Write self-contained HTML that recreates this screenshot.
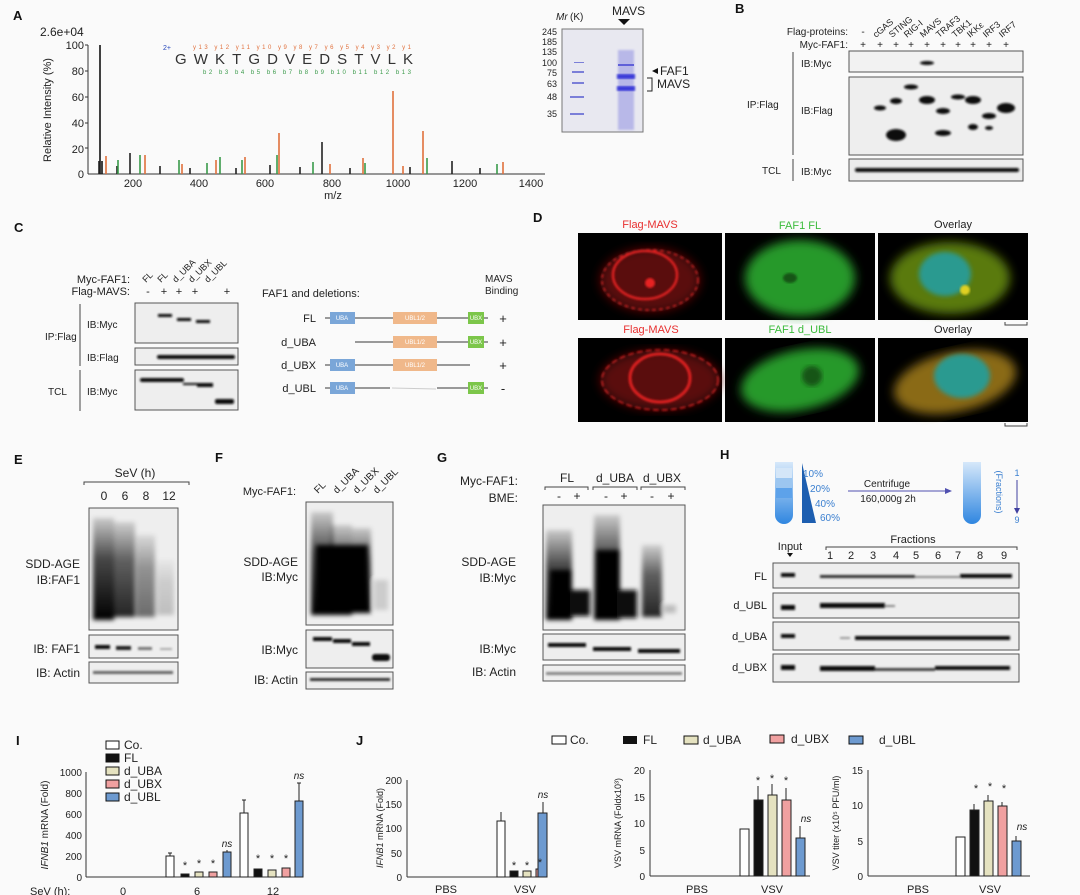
<!DOCTYPE html>
<html><head><meta charset="utf-8"><style>
html,body{margin:0;padding:0;background:#fafafa}
svg{display:block;font-family:"Liberation Sans",sans-serif}
</style></head><body>
<svg width="1080" height="895" viewBox="0 0 1080 895" xmlns="http://www.w3.org/2000/svg">
<defs>
<filter id="b1"><feGaussianBlur stdDeviation="1"/></filter>
<filter id="b2"><feGaussianBlur stdDeviation="2.5"/></filter>
<filter id="b4"><feGaussianBlur stdDeviation="5"/></filter>
<linearGradient id="smear" x1="0" y1="0" x2="0" y2="1"><stop offset="0" stop-color="#000" stop-opacity="0.15"/><stop offset="0.4" stop-color="#000" stop-opacity="0.7"/><stop offset="1" stop-color="#000" stop-opacity="1"/></linearGradient>
<linearGradient id="tube" x1="0" y1="0" x2="0" y2="1"><stop offset="0" stop-color="#d6e8fa"/><stop offset="1" stop-color="#2f86e0"/></linearGradient>
</defs>
<rect width="1080" height="895" fill="#fafafa"/>
<g font-weight="bold" font-size="13" fill="#111">
<text x="13" y="20">A</text><text x="735" y="13">B</text><text x="14" y="232">C</text><text x="533" y="222">D</text>
<text x="14" y="464">E</text><text x="215" y="462">F</text><text x="437" y="462">G</text><text x="720" y="459">H</text>
<text x="16" y="745">I</text><text x="356" y="745">J</text></g>

<!-- Panel A spectrum -->
<g font-size="11" fill="#222">
<text x="40" y="36" font-size="12">2.6e+04</text>
<line x1="88" y1="45" x2="88" y2="174" stroke="#333"/>
<line x1="88" y1="174" x2="545" y2="174" stroke="#333"/>
<g text-anchor="end"><text x="84" y="49">100</text><text x="84" y="75">80</text><text x="84" y="101">60</text><text x="84" y="127">40</text><text x="84" y="153">20</text><text x="84" y="178">0</text></g>
<g stroke="#333"><line x1="85" y1="45" x2="88" y2="45"/><line x1="85" y1="71" x2="88" y2="71"/><line x1="85" y1="97" x2="88" y2="97"/><line x1="85" y1="123" x2="88" y2="123"/><line x1="85" y1="148" x2="88" y2="148"/></g>
<g text-anchor="middle"><text x="133" y="187">200</text><text x="199" y="187">400</text><text x="265" y="187">600</text><text x="332" y="187">800</text><text x="398" y="187">1000</text><text x="465" y="187">1200</text><text x="531" y="187">1400</text>
<text x="333" y="199">m/z</text></g>
<text transform="translate(51,110) rotate(-90)" text-anchor="middle" font-size="11">Relative Intensity (%)</text>
<g stroke-width="1.6">
<line x1="100" y1="174" x2="100" y2="45" stroke="#111"/>
<line x1="102" y1="174" x2="102" y2="161" stroke="#111"/>
<g stroke="#222"><line x1="130" y1="174" x2="130" y2="153"/><line x1="99" y1="174" x2="99" y2="161"/><line x1="452" y1="174" x2="452" y2="161"/><line x1="322" y1="174" x2="322" y2="142"/><line x1="160" y1="174" x2="160" y2="166"/><line x1="190" y1="174" x2="190" y2="168"/><line x1="270" y1="174" x2="270" y2="165"/><line x1="300" y1="174" x2="300" y2="167"/><line x1="350" y1="174" x2="350" y2="168"/><line x1="410" y1="174" x2="410" y2="167"/><line x1="480" y1="174" x2="480" y2="168"/><line x1="236" y1="174" x2="236" y2="168"/><line x1="117" y1="174" x2="117" y2="166"/></g>
<g stroke="#e0703c"><line x1="393" y1="174" x2="393" y2="91"/><line x1="423" y1="174" x2="423" y2="131"/><line x1="279" y1="174" x2="279" y2="133"/><line x1="106" y1="174" x2="106" y2="156"/><line x1="145" y1="174" x2="145" y2="155"/><line x1="245" y1="174" x2="245" y2="157"/><line x1="363" y1="174" x2="363" y2="158"/><line x1="503" y1="174" x2="503" y2="162"/><line x1="330" y1="174" x2="330" y2="164"/><line x1="403" y1="174" x2="403" y2="166"/><line x1="182" y1="174" x2="182" y2="164"/><line x1="216" y1="174" x2="216" y2="160"/></g>
<g stroke="#3a9a4a"><line x1="140" y1="174" x2="140" y2="155"/><line x1="220" y1="174" x2="220" y2="157"/><line x1="242" y1="174" x2="242" y2="160"/><line x1="277" y1="174" x2="277" y2="155"/><line x1="427" y1="174" x2="427" y2="158"/><line x1="497" y1="174" x2="497" y2="164"/><line x1="313" y1="174" x2="313" y2="162"/><line x1="118" y1="174" x2="118" y2="160"/><line x1="179" y1="174" x2="179" y2="160"/><line x1="207" y1="174" x2="207" y2="163"/><line x1="365" y1="174" x2="365" y2="163"/></g>
</g>
<text x="163" y="50" font-size="7" fill="#2244bb">2+</text>
<text x="175" y="64" font-size="15" textLength="238" lengthAdjust="spacing" fill="#333">GWKTGDVEDSTVLK</text>
<text x="193" y="49" font-size="6" fill="#e0703c" textLength="218" lengthAdjust="spacing">y13 y12 y11 y10 y9 y8 y7 y6 y5 y4 y3 y2 y1</text>
<text x="203" y="74" font-size="6" fill="#3a9a4a" textLength="208" lengthAdjust="spacing">b2 b3 b4 b5 b6 b7 b8 b9 b10 b11 b12 b13</text>
</g>
<!-- gel -->
<g font-size="10" fill="#222">
<text x="556" y="20" font-style="italic">Mr</text><text x="570" y="20">(K)</text>
<text x="612" y="15" font-size="12">MAVS</text><polygon points="618,19 630,19 624,25" fill="#111"/>
<rect x="562" y="29" width="81" height="103" fill="#e8e8f0" stroke="#777"/>
<g text-anchor="end" font-size="9"><text x="557" y="35">245</text><text x="557" y="45">185</text><text x="557" y="55">135</text><text x="557" y="66">100</text><text x="557" y="76">75</text><text x="557" y="87">63</text><text x="557" y="100">48</text><text x="557" y="117">35</text></g>
<g fill="#7b7fd8"><rect x="572" y="71" width="12" height="2"/><rect x="572" y="82" width="12" height="2"/><rect x="570" y="96" width="14" height="2"/><rect x="570" y="113" width="14" height="2"/><rect x="574" y="62" width="10" height="1"/></g>
<rect x="618" y="50" width="16" height="80" fill="#b8b8e8" filter="url(#b1)"/>
<rect x="617" y="74" width="18" height="5" fill="#3a3ad8" filter="url(#b1)"/>
<rect x="617" y="86" width="18" height="5" fill="#3a3ad8" filter="url(#b1)"/>
<rect x="618" y="64" width="16" height="2" fill="#6060d8"/>
<polygon points="652,71 658,68 658,74" fill="#111"/>
<text x="660" y="75" font-size="12">FAF1</text>
<path d="M647,78 H652 V91 H647" fill="none" stroke="#222"/>
<text x="657" y="88" font-size="12">MAVS</text>
</g>

<!-- Panel B -->
<g font-size="10" fill="#222">
<text x="848" y="35" text-anchor="end">Flag-proteins:</text>
<text x="848" y="48" text-anchor="end">Myc-FAF1:</text>
<g text-anchor="middle"><text x="863" y="35">-</text><text x="863" y="48">+</text><text x="880" y="48">+</text><text x="896" y="48">+</text><text x="911" y="48">+</text><text x="927" y="48">+</text><text x="943" y="48">+</text><text x="958" y="48">+</text><text x="973" y="48">+</text><text x="989" y="48">+</text><text x="1006" y="48">+</text></g>
<g font-size="9"><text transform="translate(876,38) rotate(-40)">cGAS</text><text transform="translate(892,38) rotate(-40)">STING</text><text transform="translate(907,38) rotate(-40)">RIG-I</text><text transform="translate(923,38) rotate(-40)">MAVS</text><text transform="translate(939,38) rotate(-40)">TRAF3</text><text transform="translate(955,38) rotate(-40)">TBK1</text><text transform="translate(970,38) rotate(-40)">IKKε</text><text transform="translate(986,38) rotate(-40)">IRF3</text><text transform="translate(1002,38) rotate(-40)">IRF7</text></g>
<text x="747" y="108">IP:Flag</text><text x="762" y="174">TCL</text>
<line x1="793" y1="52" x2="793" y2="155" stroke="#444"/><line x1="793" y1="159" x2="793" y2="181" stroke="#444"/>
<text x="801" y="67">IB:Myc</text><text x="801" y="114">IB:Flag</text><text x="801" y="175">IB:Myc</text>
<rect x="849" y="51" width="174" height="21" fill="#f2f2f2" stroke="#555"/>
<rect x="849" y="77" width="174" height="78" fill="#eee" stroke="#555"/>
<rect x="849" y="159" width="174" height="22" fill="#ececec" stroke="#555"/>
<g fill="#111" filter="url(#b1)">
<ellipse cx="927" cy="63" rx="7" ry="2"/>
<ellipse cx="880" cy="108" rx="6" ry="2.5"/><ellipse cx="896" cy="101" rx="6" ry="3"/><ellipse cx="911" cy="87" rx="7" ry="2.5"/><ellipse cx="927" cy="100" rx="8" ry="4"/><ellipse cx="943" cy="111" rx="7" ry="3"/><ellipse cx="958" cy="97" rx="7" ry="2.5"/><ellipse cx="973" cy="100" rx="8" ry="4"/><ellipse cx="989" cy="116" rx="7" ry="3"/><ellipse cx="1006" cy="108" rx="9" ry="5"/>
<ellipse cx="896" cy="135" rx="10" ry="6"/><ellipse cx="943" cy="133" rx="8" ry="3"/><ellipse cx="973" cy="127" rx="5" ry="3"/><ellipse cx="989" cy="128" rx="4" ry="2"/>
<rect x="855" y="168" width="164" height="4" rx="2"/></g>
</g>

<!-- Panel C -->
<g font-size="11" fill="#222">
<text x="130" y="283" text-anchor="end">Myc-FAF1:</text><text x="130" y="295" text-anchor="end">Flag-MAVS:</text>
<g text-anchor="middle"><text x="148" y="295">-</text><text x="164" y="295">+</text><text x="179" y="295">+</text><text x="195" y="295">+</text><text x="227" y="295">+</text></g>
<g font-size="9"><text transform="translate(146,283) rotate(-45)">FL</text><text transform="translate(161,283) rotate(-45)">FL</text><text transform="translate(176,283) rotate(-45)">d_UBA</text><text transform="translate(192,283) rotate(-45)">d_UBX</text><text transform="translate(208,283) rotate(-45)">d_UBL</text></g>
<text x="45" y="340" font-size="10">IP:Flag</text><text x="48" y="395" font-size="10">TCL</text>
<line x1="80" y1="304" x2="80" y2="366" stroke="#444"/><line x1="80" y1="370" x2="80" y2="411" stroke="#444"/>
<text x="87" y="328" font-size="10">IB:Myc</text><text x="87" y="361" font-size="10">IB:Flag</text><text x="87" y="395" font-size="10">IB:Myc</text>
<rect x="135" y="303" width="103" height="40" fill="#eee" stroke="#555"/>
<rect x="135" y="348" width="103" height="17" fill="#eee" stroke="#555"/>
<rect x="135" y="370" width="103" height="40" fill="#eee" stroke="#555"/>
<g fill="#111" filter="url(#b1)"><rect x="158" y="314" width="14" height="3"/><rect x="177" y="318" width="14" height="3"/><rect x="196" y="320" width="14" height="3"/>
<rect x="157" y="355" width="78" height="4" rx="2"/><rect x="140" y="378" width="44" height="4" rx="2"/><rect x="183" y="383" width="14" height="2"/><rect x="197" y="383" width="16" height="4"/><rect x="215" y="399" width="19" height="5" rx="2"/></g>
<text x="262" y="297" font-size="11">FAF1 and deletions:</text>
<text x="485" y="282" font-size="10">MAVS</text><text x="485" y="294" font-size="10">Binding</text>
<g text-anchor="end"><text x="316" y="322">FL</text><text x="316" y="346">d_UBA</text><text x="316" y="369">d_UBX</text><text x="316" y="392">d_UBL</text></g>
<g stroke="#999" stroke-width="2"><line x1="325" y1="318" x2="488" y2="318"/><line x1="355" y1="342" x2="488" y2="342"/><line x1="325" y1="365" x2="470" y2="365"/><line x1="325" y1="388" x2="390" y2="388"/><line x1="437" y1="388" x2="488" y2="388"/><line x1="392" y1="388" x2="436" y2="389" stroke="#ccc" stroke-width="1"/></g>
<g font-size="6" fill="#fff" text-anchor="middle">
<rect x="330" y="312" width="25" height="12" fill="#7aa6d8"/><text x="342" y="320">UBA</text>
<rect x="393" y="312" width="44" height="12" fill="#f0b88a"/><text x="415" y="320">UBL1/2</text>
<rect x="468" y="312" width="16" height="12" fill="#7cc64a"/><text x="476" y="320">UBX</text>
<rect x="393" y="336" width="44" height="12" fill="#f0b88a"/><text x="415" y="344">UBL1/2</text>
<rect x="468" y="336" width="16" height="12" fill="#7cc64a"/><text x="476" y="344">UBX</text>
<rect x="330" y="359" width="25" height="12" fill="#7aa6d8"/><text x="342" y="367">UBA</text>
<rect x="393" y="359" width="44" height="12" fill="#f0b88a"/><text x="415" y="367">UBL1/2</text>
<rect x="330" y="382" width="25" height="12" fill="#7aa6d8"/><text x="342" y="390">UBA</text>
<rect x="468" y="382" width="16" height="12" fill="#7cc64a"/><text x="476" y="390">UBX</text></g>
<g font-size="13" text-anchor="middle"><text x="503" y="323">+</text><text x="503" y="347">+</text><text x="503" y="370">+</text><text x="503" y="393">-</text></g>
</g>

<!-- Panel D -->
<g font-size="11" text-anchor="middle">
<text x="650" y="228" fill="#e83030">Flag-MAVS</text><text x="800" y="229" fill="#3cbc3c">FAF1 FL</text><text x="953" y="228" fill="#222">Overlay</text>
<text x="651" y="333" fill="#e83030">Flag-MAVS</text><text x="800" y="333" fill="#3cbc3c">FAF1 d_UBL</text><text x="953" y="333" fill="#222">Overlay</text>
</g>
<g>
<rect x="578" y="233" width="144" height="87" fill="#000"/><rect x="725" y="233" width="150" height="87" fill="#000"/><rect x="878" y="233" width="150" height="87" fill="#000"/>
<rect x="578" y="338" width="144" height="84" fill="#000"/><rect x="725" y="338" width="150" height="84" fill="#000"/><rect x="878" y="338" width="150" height="84" fill="#000"/>
<ellipse cx="650" cy="280" rx="50" ry="32" fill="#5a0808" filter="url(#b4)"/>
<ellipse cx="660" cy="380" rx="60" ry="30" fill="#5a0808" filter="url(#b4)"/>
<g fill="none" stroke="#e02020" filter="url(#b1)">
<ellipse cx="645" cy="275" rx="32" ry="24" stroke-width="2.5"/><ellipse cx="650" cy="280" rx="48" ry="30" stroke-width="1.5" stroke-dasharray="4 3"/>
<ellipse cx="660" cy="378" rx="30" ry="24" stroke-width="3"/><ellipse cx="660" cy="380" rx="58" ry="30" stroke-width="1.5" stroke-dasharray="6 3"/></g>
<circle cx="650" cy="283" r="5" fill="#e82020" filter="url(#b1)"/>
<ellipse cx="800" cy="278" rx="55" ry="38" fill="#27992a" filter="url(#b4)"/>
<ellipse cx="790" cy="278" rx="7" ry="5" fill="#145514" filter="url(#b1)"/>
<ellipse cx="800" cy="380" rx="60" ry="30" fill="#27992a" filter="url(#b4)" transform="rotate(-12 800 380)"/>
<ellipse cx="812" cy="376" rx="10" ry="10" fill="#145514" filter="url(#b2)"/>
<ellipse cx="950" cy="278" rx="60" ry="36" fill="#5a7a10" filter="url(#b4)"/>
<ellipse cx="945" cy="274" rx="26" ry="22" fill="#2a9a90" filter="url(#b2)"/>
<circle cx="965" cy="290" r="5" fill="#e0d020" filter="url(#b1)"/>
<ellipse cx="955" cy="382" rx="62" ry="30" fill="#8a6a18" filter="url(#b4)" transform="rotate(-12 955 382)"/>
<ellipse cx="962" cy="376" rx="28" ry="22" fill="#2a9a90" filter="url(#b2)"/>
<path d="M1005,322 V325 H1027 V322" fill="none" stroke="#444"/><path d="M1005,423 V426 H1027 V423" fill="none" stroke="#444"/>
</g>

<!-- Panel E -->
<g font-size="11" fill="#222">
<text x="135" y="477" text-anchor="middle" font-size="12">SeV (h)</text>
<path d="M84,485 V482 H189 V485" fill="none" stroke="#444"/>
<g text-anchor="middle" font-size="12"><text x="104" y="500">0</text><text x="125" y="500">6</text><text x="146" y="500">8</text><text x="169" y="500">12</text></g>
<text x="80" y="568" text-anchor="end" font-size="12">SDD-AGE</text><text x="80" y="584" text-anchor="end" font-size="12">IB:FAF1</text>
<text x="80" y="653" text-anchor="end" font-size="12">IB: FAF1</text><text x="80" y="677" text-anchor="end" font-size="12">IB: Actin</text>
<rect x="89" y="508" width="89" height="122" fill="#eee" stroke="#555"/>
<rect x="89" y="635" width="89" height="23" fill="#eee" stroke="#555"/>
<rect x="89" y="662" width="89" height="21" fill="#eee" stroke="#555"/>
<g filter="url(#b2)"><rect x="93" y="518" width="21" height="102" fill="url(#smear)"/><rect x="114" y="522" width="21" height="95" fill="url(#smear)" opacity="0.85"/><rect x="136" y="535" width="19" height="82" fill="url(#smear)" opacity="0.55"/><rect x="157" y="560" width="17" height="55" fill="url(#smear)" opacity="0.2"/></g>
<g filter="url(#b1)"><rect x="95" y="645" width="15" height="4" fill="#111"/><rect x="116" y="646" width="15" height="4" fill="#222"/><rect x="138" y="647" width="14" height="3" fill="#777"/><rect x="160" y="648" width="12" height="2" fill="#aaa"/>
<rect x="93" y="671" width="80" height="3" fill="#666"/></g>
</g>

<!-- Panel F -->
<g font-size="11" fill="#222">
<text x="296" y="495" text-anchor="end">Myc-FAF1:</text>
<g font-size="10"><text transform="translate(318,494) rotate(-45)">FL</text><text transform="translate(337,494) rotate(-45)">d_UBA</text><text transform="translate(357,494) rotate(-45)">d_UBX</text><text transform="translate(377,494) rotate(-45)">d_UBL</text></g>
<text x="298" y="566" text-anchor="end" font-size="12">SDD-AGE</text><text x="298" y="581" text-anchor="end" font-size="12">IB:Myc</text>
<text x="298" y="654" text-anchor="end" font-size="12">IB:Myc</text><text x="298" y="684" text-anchor="end" font-size="12">IB: Actin</text>
<rect x="306" y="502" width="87" height="123" fill="#eee" stroke="#555"/>
<rect x="306" y="630" width="87" height="38" fill="#eee" stroke="#555"/>
<rect x="306" y="672" width="87" height="17" fill="#eee" stroke="#555"/>
<g filter="url(#b2)"><rect x="311" y="512" width="22" height="103" fill="url(#smear)"/><rect x="331" y="525" width="21" height="90" fill="url(#smear)"/><rect x="352" y="528" width="19" height="85" fill="url(#smear)"/><rect x="316" y="545" width="52" height="68" fill="#000"/><rect x="374" y="580" width="14" height="30" fill="#ccc"/></g>
<g fill="#111" filter="url(#b1)"><rect x="313" y="637" width="19" height="4"/><rect x="333" y="639" width="18" height="4"/><rect x="352" y="642" width="18" height="4"/><rect x="372" y="654" width="18" height="7" rx="3"/><rect x="310" y="678" width="80" height="3" fill="#333"/></g>
</g>

<!-- Panel G -->
<g font-size="11" fill="#222">
<text x="518" y="485" text-anchor="end" font-size="12">Myc-FAF1:</text><text x="518" y="502" text-anchor="end" font-size="12">BME:</text>
<g font-size="12" text-anchor="middle"><text x="567" y="482">FL</text><text x="615" y="482">d_UBA</text><text x="662" y="482">d_UBX</text>
<text x="559" y="500">-</text><text x="577" y="500">+</text><text x="606" y="500">-</text><text x="624" y="500">+</text><text x="652" y="500">-</text><text x="671" y="500">+</text></g>
<g fill="none" stroke="#444"><path d="M545,490 V487 H588 V490"/><path d="M593,490 V487 H637 V490"/><path d="M641,490 V487 H685 V490"/></g>
<text x="516" y="566" text-anchor="end" font-size="12">SDD-AGE</text><text x="516" y="582" text-anchor="end" font-size="12">IB:Myc</text>
<text x="516" y="653" text-anchor="end" font-size="12">IB:Myc</text><text x="516" y="676" text-anchor="end" font-size="12">IB: Actin</text>
<rect x="543" y="505" width="142" height="125" fill="#eee" stroke="#555"/>
<rect x="543" y="634" width="142" height="26" fill="#eee" stroke="#555"/>
<rect x="543" y="665" width="142" height="16" fill="#eee" stroke="#555"/>
<g filter="url(#b2)"><rect x="546" y="530" width="26" height="90" fill="url(#smear)"/><rect x="550" y="570" width="22" height="50" fill="#000"/><rect x="570" y="590" width="20" height="26" fill="#111"/>
<rect x="594" y="515" width="26" height="105" fill="url(#smear)"/><rect x="596" y="550" width="24" height="70" fill="#000"/><rect x="617" y="590" width="20" height="28" fill="#111"/>
<rect x="642" y="545" width="20" height="72" fill="url(#smear)" opacity="0.85"/><rect x="664" y="605" width="12" height="8" fill="#bbb"/></g>
<g fill="#111" filter="url(#b1)"><rect x="548" y="643" width="38" height="4"/><rect x="593" y="647" width="38" height="4"/><rect x="638" y="649" width="42" height="4"/><rect x="546" y="672" width="136" height="3" fill="#888"/></g>
</g>

<!-- Panel H -->
<g font-size="10" fill="#3a7fd0">
<path d="M775,462 V515 a9,9 0 0 0 18,0 V462" fill="url(#tube)"/>
<rect x="776" y="468" width="16" height="10" fill="#d4e6f8"/><rect x="776" y="478" width="16" height="10" fill="#9cc6f0"/><rect x="776" y="488" width="16" height="10" fill="#5da2ea"/>
<polygon points="802,463 802,523 816,523" fill="#1d5eb0"/>
<text x="803" y="477">10%</text><text x="810" y="492">20%</text><text x="815" y="507">40%</text><text x="820" y="521">60%</text>
<text x="887" y="487" fill="#222" font-size="10" text-anchor="middle">Centrifuge</text>
<text x="888" y="502" fill="#222" font-size="10" text-anchor="middle">160,000g 2h</text>
<line x1="848" y1="491" x2="948" y2="491" stroke="#5050b0"/><polygon points="952,491 945,488 945,494" fill="#5050b0"/>
<path d="M963,462 V515 a9,9 0 0 0 18,0 V462" fill="url(#tube)"/>
<text transform="translate(996,492) rotate(90)" text-anchor="middle" font-size="9">(Fractions)</text>
<text x="1017" y="476" font-size="9" text-anchor="middle">1</text><text x="1017" y="523" font-size="9" text-anchor="middle">9</text>
<line x1="1017" y1="480" x2="1017" y2="510" stroke="#4040a0"/><polygon points="1017,514 1014,508 1020,508" fill="#4040a0"/>
</g>
<g font-size="11" fill="#222">
<text x="790" y="550" text-anchor="middle">Input</text><polygon points="787,553 793,553 790,557" fill="#111"/>
<text x="913" y="543" text-anchor="middle">Fractions</text>
<path d="M826,550 V547 H1017 V550" fill="none" stroke="#444"/>
<g text-anchor="middle"><text x="830" y="559">1</text><text x="851" y="559">2</text><text x="873" y="559">3</text><text x="896" y="559">4</text><text x="916" y="559">5</text><text x="938" y="559">6</text><text x="958" y="559">7</text><text x="980" y="559">8</text><text x="1004" y="559">9</text></g>
<g text-anchor="end"><text x="767" y="580">FL</text><text x="767" y="609">d_UBL</text><text x="767" y="640">d_UBA</text><text x="767" y="671">d_UBX</text></g>
<rect x="773" y="563" width="246" height="25" fill="#eee" stroke="#555"/>
<rect x="773" y="593" width="246" height="25" fill="#eee" stroke="#555"/>
<rect x="773" y="622" width="246" height="28" fill="#eee" stroke="#555"/>
<rect x="773" y="654" width="246" height="28" fill="#eee" stroke="#555"/>
<g fill="#111" filter="url(#b1)">
<rect x="781" y="573" width="14" height="4"/><rect x="820" y="575" width="95" height="3" fill="#333"/><rect x="915" y="576" width="45" height="2" fill="#888"/><rect x="960" y="574" width="52" height="4"/>
<rect x="781" y="605" width="14" height="5"/><rect x="820" y="603" width="65" height="5"/><rect x="885" y="605" width="10" height="2" fill="#888"/>
<rect x="781" y="634" width="14" height="4"/><rect x="840" y="637" width="10" height="2" fill="#999"/><rect x="855" y="636" width="155" height="4"/>
<rect x="781" y="665" width="14" height="5"/><rect x="820" y="666" width="55" height="5"/><rect x="875" y="668" width="60" height="3" fill="#444"/><rect x="935" y="666" width="75" height="4"/>
</g></g>

<!-- Panel I -->
<g font-size="11" fill="#222">
<g font-size="12"><rect x="106" y="741" width="13" height="8" fill="#fff" stroke="#111"/><text x="124" y="749">Co.</text>
<rect x="106" y="754" width="13" height="8" fill="#111" stroke="#111"/><text x="124" y="762">FL</text>
<rect x="106" y="767" width="13" height="8" fill="#e5e2c0" stroke="#111"/><text x="124" y="775">d_UBA</text>
<rect x="106" y="780" width="13" height="8" fill="#f0a0a0" stroke="#111"/><text x="124" y="788">d_UBX</text>
<rect x="106" y="793" width="13" height="8" fill="#6d9ad0" stroke="#111"/><text x="124" y="801">d_UBL</text></g>
<line x1="86" y1="772" x2="86" y2="877" stroke="#333"/><line x1="86" y1="877" x2="302" y2="877" stroke="#333"/>
<g text-anchor="end" font-size="10"><text x="82" y="776">1000</text><text x="82" y="797">800</text><text x="82" y="818">600</text><text x="82" y="839">400</text><text x="82" y="860">200</text><text x="82" y="881">0</text></g>
<text transform="translate(48,825) rotate(-90)" text-anchor="middle" font-size="10"><tspan font-style="italic">IFNB1</tspan> mRNA (Fold)</text>
<g stroke="#222">
<rect x="166" y="856" width="8" height="21" fill="#fff"/><rect x="181" y="874" width="8" height="3" fill="#111"/><rect x="195" y="872" width="8" height="5" fill="#e5e2c0"/><rect x="209" y="872" width="8" height="5" fill="#f0a0a0"/><rect x="223" y="852" width="8" height="25" fill="#6d9ad0"/>
<rect x="240" y="813" width="8" height="64" fill="#fff"/><rect x="254" y="869" width="8" height="8" fill="#111"/><rect x="268" y="870" width="8" height="7" fill="#e5e2c0"/><rect x="282" y="868" width="8" height="9" fill="#f0a0a0"/><rect x="295" y="801" width="8" height="76" fill="#6d9ad0"/>
<path d="M170,856 V853 M168,853 H172 M244,813 V800 M242,800 H246 M299,801 V783 M297,783 H301 M227,852 V850"/></g>
<g font-size="11" text-anchor="middle"><text x="185" y="869">*</text><text x="199" y="867">*</text><text x="213" y="867">*</text><text x="258" y="862">*</text><text x="272" y="862">*</text><text x="286" y="862">*</text></g>
<g font-style="italic" font-size="10" text-anchor="middle"><text x="227" y="847">ns</text><text x="299" y="779">ns</text></g>
<g font-size="11"><text x="30" y="895">SeV (h):</text><text x="123" y="895" text-anchor="middle">0</text><text x="197" y="895" text-anchor="middle">6</text><text x="273" y="895" text-anchor="middle">12</text></g>
</g>

<!-- Panel J legend -->
<g font-size="12" fill="#222">
<rect x="552" y="736" width="14" height="8" fill="#fff" stroke="#111"/><text x="570" y="744">Co.</text>
<rect x="623" y="736" width="14" height="8" fill="#111"/><text x="643" y="744">FL</text>
<rect x="684" y="736" width="14" height="8" fill="#e5e2c0" stroke="#111"/><text x="703" y="744">d_UBA</text>
<rect x="770" y="735" width="14" height="8" fill="#f0a0a0" stroke="#111"/><text x="791" y="743">d_UBX</text>
<rect x="849" y="736" width="14" height="8" fill="#6d9ad0" stroke="#111"/><text x="879" y="744">d_UBL</text>
</g>
<!-- J plot 1 -->
<g font-size="10" fill="#222">
<line x1="407" y1="780" x2="407" y2="877" stroke="#333"/><line x1="407" y1="877" x2="545" y2="877" stroke="#333"/>
<g text-anchor="end"><text x="402" y="784">200</text><text x="402" y="808">150</text><text x="402" y="832">100</text><text x="402" y="857">50</text><text x="402" y="881">0</text></g>
<text transform="translate(383,828) rotate(-90)" text-anchor="middle" font-size="9"><tspan font-style="italic">IFNB1</tspan> mRNA (Fold)</text>
<g stroke="#222"><rect x="497" y="821" width="8" height="56" fill="#fff"/><rect x="510" y="871" width="8" height="6" fill="#111"/><rect x="523" y="871" width="8" height="6" fill="#e5e2c0"/><rect x="536" y="869" width="8" height="8" fill="#f0a0a0"/><rect x="512" y="813" width="9" height="64" fill="#6d9ad0" transform="translate(26,0)"/>
<path d="M501,821 V812 M543,813 V802"/></g>
<g font-size="11" text-anchor="middle"><text x="514" y="869">*</text><text x="527" y="869">*</text><text x="540" y="866">*</text></g>
<text x="543" y="798" font-style="italic" text-anchor="middle">ns</text>
<text x="446" y="893" text-anchor="middle" font-size="11">PBS</text><text x="525" y="893" text-anchor="middle" font-size="11">VSV</text>
</g>
<!-- J plot 2 -->
<g font-size="10" fill="#222">
<line x1="650" y1="770" x2="650" y2="876" stroke="#333"/><line x1="650" y1="876" x2="810" y2="876" stroke="#333"/>
<g text-anchor="end"><text x="645" y="774">20</text><text x="645" y="801">15</text><text x="645" y="827">10</text><text x="645" y="854">5</text><text x="645" y="880">0</text></g>
<text transform="translate(621,823) rotate(-90)" text-anchor="middle" font-size="9">VSV mRNA (Foldx10³)</text>
<g stroke="#222"><rect x="740" y="829" width="9" height="47" fill="#fff"/><rect x="754" y="800" width="9" height="76" fill="#111"/><rect x="768" y="795" width="9" height="81" fill="#e5e2c0"/><rect x="782" y="800" width="9" height="76" fill="#f0a0a0"/><rect x="796" y="838" width="9" height="38" fill="#6d9ad0"/>
<path d="M758,800 V786 M772,795 V784 M786,800 V788 M800,838 V826"/></g>
<g font-size="11" text-anchor="middle"><text x="758" y="784">*</text><text x="772" y="782">*</text><text x="786" y="784">*</text></g>
<text x="806" y="822" font-style="italic" text-anchor="middle">ns</text>
<text x="697" y="893" text-anchor="middle" font-size="11">PBS</text><text x="772" y="893" text-anchor="middle" font-size="11">VSV</text>
</g>
<!-- J plot 3 -->
<g font-size="10" fill="#222">
<line x1="868" y1="770" x2="868" y2="876" stroke="#333"/><line x1="868" y1="876" x2="1030" y2="876" stroke="#333"/>
<g text-anchor="end"><text x="863" y="774">15</text><text x="863" y="809">10</text><text x="863" y="845">5</text><text x="863" y="880">0</text></g>
<text transform="translate(839,823) rotate(-90)" text-anchor="middle" font-size="9">VSV titer (x10⁵ PFU/ml)</text>
<g stroke="#222"><rect x="956" y="837" width="9" height="39" fill="#fff"/><rect x="970" y="810" width="9" height="66" fill="#111"/><rect x="984" y="801" width="9" height="75" fill="#e5e2c0"/><rect x="998" y="806" width="9" height="70" fill="#f0a0a0"/><rect x="1012" y="841" width="9" height="35" fill="#6d9ad0"/>
<path d="M974,810 V804 M988,801 V795 M1002,806 V802 M1016,841 V836"/></g>
<g font-size="11" text-anchor="middle"><text x="976" y="792">*</text><text x="990" y="790">*</text><text x="1004" y="792">*</text></g>
<text x="1022" y="830" font-style="italic" text-anchor="middle">ns</text>
<text x="918" y="893" text-anchor="middle" font-size="11">PBS</text><text x="990" y="893" text-anchor="middle" font-size="11">VSV</text>
</g>
</svg>
</body></html>
